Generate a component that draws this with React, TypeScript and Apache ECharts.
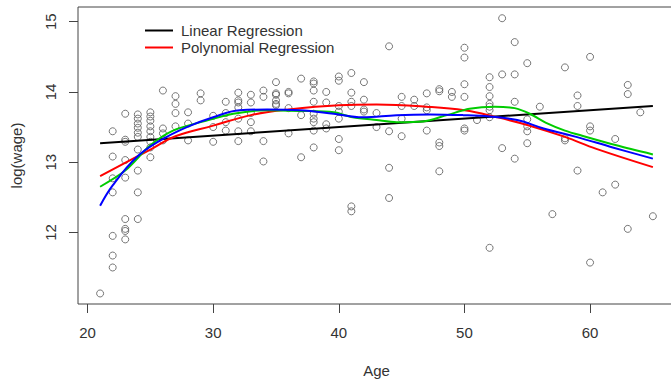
import React, { useEffect, useRef } from "react";
import * as echarts from "echarts";

// Observed points: [age, log(wage) values]
const observations: [number, number[]][] = [
  [21, [11.13]],
  [22, [13.44, 13.08, 12.77, 12.57, 11.95, 11.67, 11.5]],
  [23, [13.69, 13.32, 13.29, 13.03, 12.78, 12.19, 12.05, 12.02, 11.9]],
  [24, [13.68, 13.62, 13.55, 13.49, 13.42, 13.36, 13.18, 12.88, 12.57, 12.19]],
  [25, [13.71, 13.65, 13.59, 13.51, 13.44, 13.36, 13.29, 13.21, 13.07]],
  [26, [14.02, 13.48, 13.41, 13.31]],
  [27, [13.94, 13.83, 13.7, 13.51]],
  [28, [13.71, 13.55, 13.31]],
  [29, [13.98, 13.88]],
  [30, [13.66, 13.5, 13.29]],
  [31, [13.86, 13.7, 13.57, 13.45]],
  [32, [13.99, 13.88, 13.85, 13.78, 13.62, 13.44, 13.3]],
  [33, [13.96, 13.85, 13.7, 13.57, 13.44]],
  [34, [14.02, 13.93, 13.3, 13.01]],
  [35, [14.14, 13.98, 13.96, 13.88, 13.83, 13.81]],
  [36, [14.0, 13.98, 13.77, 13.41]],
  [37, [14.19, 13.67, 13.07]],
  [38, [14.15, 14.12, 14.02, 13.86, 13.69, 13.62, 13.57, 13.45, 13.21]],
  [39, [14.0, 13.85, 13.54, 13.48]],
  [40, [14.22, 14.16, 13.8, 13.72, 13.62, 13.33, 13.17]],
  [41, [14.27, 13.99, 13.86, 13.8, 12.37, 12.3]],
  [42, [14.14, 13.89, 13.75, 13.72]],
  [43, [13.7, 13.5]],
  [44, [14.65, 13.44, 12.92, 12.49]],
  [45, [13.93, 13.8, 13.62, 13.37]],
  [46, [13.89, 13.8]],
  [47, [13.98, 13.78, 13.74, 13.45]],
  [48, [14.04, 14.01, 13.28, 13.23, 12.87]],
  [49, [14.0, 13.93]],
  [50, [14.63, 14.49, 14.11, 13.93, 13.48, 13.45]],
  [51, [13.6]],
  [52, [14.21, 14.07, 13.94, 13.83, 13.79, 13.74, 13.64, 11.78]],
  [53, [15.05, 14.25, 13.2]],
  [54, [14.71, 14.25, 13.86, 13.05]],
  [55, [14.41, 13.61, 13.51, 13.44, 13.27]],
  [56, [13.79]],
  [57, [12.26]],
  [58, [14.35, 13.34, 13.31]],
  [59, [13.95, 13.8, 12.88]],
  [60, [14.5, 13.51, 13.45, 11.57]],
  [61, [12.57]],
  [62, [13.33, 12.68]],
  [63, [14.1, 13.97, 12.05]],
  [64, [13.71]],
  [65, [12.23]],
];

const linearAge = [21, 65];
const linearFit = [13.27, 13.8];

const polyAge = [21, 25, 27, 30, 33, 36, 40, 43, 47, 50, 52.6, 55, 58, 60.5, 65];
const polyFit = [12.8, 13.18, 13.37, 13.52, 13.67, 13.75, 13.81, 13.82, 13.79, 13.74, 13.64, 13.53, 13.36, 13.19, 12.93];

const greenAge = [21, 23, 25, 26.8, 29, 31.6, 34.2, 36.9, 39.6, 41.1, 43, 44.6, 46.7, 48.6, 50.4, 52.4, 54, 55.2, 56.5, 58, 59.5, 62.1, 65];
const greenFit = [12.65, 12.88, 13.24, 13.45, 13.57, 13.69, 13.74, 13.73, 13.71, 13.64, 13.6, 13.57, 13.58, 13.67, 13.76, 13.79, 13.77, 13.69, 13.56, 13.45, 13.37, 13.24, 13.11];

const blueAge = [21, 22, 23.9, 25.8, 27.9, 30, 32.1, 34.3, 36.9, 39.6, 41.9, 44.6, 47.3, 49.9, 52, 54.2, 56.3, 58.9, 61.8, 65];
const blueFit = [12.38, 12.67, 13.07, 13.31, 13.5, 13.64, 13.74, 13.75, 13.74, 13.69, 13.64, 13.67, 13.68, 13.67, 13.65, 13.6, 13.48, 13.36, 13.21, 13.05];

const xTicks = [20, 30, 40, 50, 60];
const yTicks = [12, 13, 14, 15];

const FONT = "Liberation Sans, Arial, sans-serif";
const AXIS_COLOR = "#444";
const TEXT_COLOR = "#333";

function pairs(xs: number[], ys: number[]) {
  return xs.map((x, i) => [x, ys[i]]);
}

export default function App() {
  const ref = useRef<HTMLDivElement>(null);
  useEffect(() => {
    if (!ref.current) return;
    const chart = echarts.init(ref.current, undefined, { renderer: "svg" });
    const scatterData: number[][] = [];
    observations.forEach(([age, vals]) => vals.forEach((v) => scatterData.push([age, v])));
    const lineSeries = (name: string, data: number[][], color: string, width: number, smooth: boolean | number) => ({
      name,
      type: "line",
      data,
      symbol: "none",
      smooth,
      lineStyle: { color, width },
      itemStyle: { color },
      silent: true,
    });
    chart.setOption({
      animation: false,
      backgroundColor: "#fff",
      textStyle: { fontFamily: FONT },
      grid: {
        left: 78,
        top: 7,
        right: -4,
        bottom: 75,
        containLabel: false,
        outerBoundsMode: "none",
        show: true,
        borderColor: AXIS_COLOR,
        borderWidth: 1,
        backgroundColor: "transparent",
      },
      legend: {
        data: ["Linear Regression", "Polynomial Regression"],
        orient: "vertical",
        left: 140,
        top: 17,
        icon: "rect",
        itemWidth: 28,
        itemHeight: 2,
        itemGap: 0,
        textStyle: { fontSize: 15, lineHeight: 17, color: TEXT_COLOR, fontFamily: FONT, padding: [0, 0, 0, 3] },
        selectedMode: false,
      },
      xAxis: {
        type: "value",
        min: 19.24,
        max: 66.76,
        name: "Age",
        nameLocation: "middle",
        nameGap: 59,
        nameTextStyle: { fontSize: 15, color: TEXT_COLOR, fontFamily: FONT },
        axisLine: { show: false },
        splitLine: { show: false },
        axisTick: { show: true, length: 9, customValues: xTicks, lineStyle: { color: AXIS_COLOR } },
        axisLabel: { customValues: xTicks, fontSize: 15, color: TEXT_COLOR, margin: 21, fontFamily: FONT },
      },
      yAxis: {
        type: "value",
        min: 10.98,
        max: 15.21,
        name: "log(wage)",
        nameLocation: "middle",
        nameRotate: 90,
        nameGap: 54,
        nameTextStyle: { fontSize: 15, color: TEXT_COLOR, fontFamily: FONT },
        axisLine: { show: false },
        splitLine: { show: false },
        axisTick: { show: true, length: 9, customValues: yTicks, lineStyle: { color: AXIS_COLOR } },
        axisLabel: { customValues: yTicks, rotate: 90, fontSize: 15, color: TEXT_COLOR, margin: 20, fontFamily: FONT },
      },
      series: [
        {
          name: "Observations",
          type: "scatter",
          data: scatterData,
          symbol: "circle",
          symbolSize: 7,
          itemStyle: { color: "rgba(0,0,0,0)", borderColor: "#555", borderWidth: 1 },
          silent: true,
          z: 1,
        },
        { ...lineSeries("Linear Regression", pairs(linearAge, linearFit), "#000", 2, false), z: 2 },
        { ...lineSeries("Polynomial Regression", pairs(polyAge, polyFit), "#ff0000", 2, 0.4), z: 3 },
        { ...lineSeries("Smoothing Spline", pairs(greenAge, greenFit), "#00cc00", 2, 0.3), z: 4 },
        { ...lineSeries("Local Regression", pairs(blueAge, blueFit), "#0000ff", 2, 0.4), z: 5 },
      ],
    });
    return () => chart.dispose();
  }, []);
  return (
    <div
      ref={ref}
      style={{ position: "absolute", left: 0, top: 0, width: 671, height: 379, background: "#fff" }}
    />
  );
}
